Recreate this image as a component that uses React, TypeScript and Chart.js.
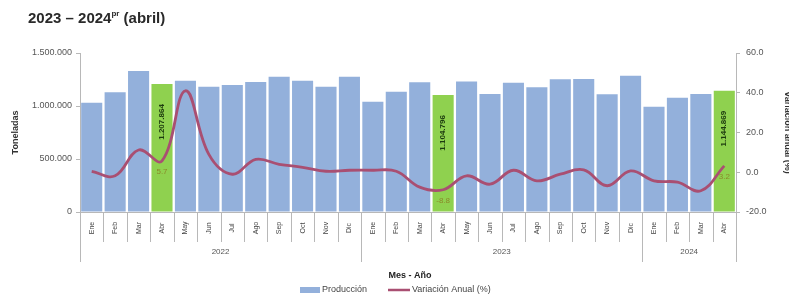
import React, { useEffect, useRef } from "react";
import { Chart, registerables } from "chart.js";
Chart.register(...registerables);

const months = ["Ene", "Feb", "Mar", "Abr", "May", "Jun", "Jul", "Ago", "Sep", "Oct", "Nov", "Dic"];
const years = ["2022", "2023", "2024"];
const monthsPerYear = [12, 12, 4];

const produccion = [
  1031000, 1129000, 1330000, 1207864, 1239000, 1182000, 1198000, 1226000, 1277000, 1239000, 1182000, 1277000,
  1040000, 1135000, 1223000, 1104796, 1230000, 1113000, 1220000, 1176000, 1252000, 1255000, 1110000, 1286000,
  993000, 1078000, 1113000, 1144869,
];
const variacion = [
  0.5, -1.8, 11.2, 5.7, 41.0, 9.0, -1.0, 6.5, 4.0, 2.5, 0.5, 1.0,
  1.0, 0.5, -7.5, -8.8, -1.8, -6.0, 1.0, -4.3, -1.0, 1.2, -6.8, 0.7,
  -4.3, -5.0, -9.3, 3.2,
];
const highlightMonth = "Abr";

const leftTicks = [0, 500000, 1000000, 1500000];
const rightTicks = [-20, 0, 20, 40, 60];

const categories: string[] = [];
const monthOfCat: string[] = [];
years.forEach((y, yi) => {
  for (let m = 0; m < monthsPerYear[yi]; m++) {
    categories.push(months[m] + " " + y);
    monthOfCat.push(months[m]);
  }
});

const FONT = "'Liberation Sans', Arial, sans-serif";
const BLUE = "#93b0db";
const GREEN = "#8fd14f";
const LINE = "#a94f72";

const fmtThousands = (v: number) => String(Math.round(v)).replace(/\B(?=(\d{3})+(?!\d))/g, ".");

const customPlugin = {
  id: "customDecor",
  afterDatasetsDraw(chart: any) {
    const ctx = chart.ctx;
    const barMeta = chart.getDatasetMeta(0);
    const lineMeta = chart.getDatasetMeta(1);
    ctx.save();
    monthOfCat.forEach((m, i) => {
      if (m !== highlightMonth) return;
      const bar = barMeta.data[i];
      ctx.save();
      ctx.translate(bar.x, bar.y + 38);
      ctx.rotate(-Math.PI / 2);
      ctx.font = `bold 8px ${FONT}`;
      ctx.fillStyle = "#1d3b0f";
      ctx.textAlign = "center";
      ctx.textBaseline = "middle";
      ctx.fillText(fmtThousands(produccion[i]), 0, 0);
      ctx.restore();
      const pt = lineMeta.data[i];
      ctx.font = `8px ${FONT}`;
      ctx.fillStyle = "#8a8a2a";
      ctx.textAlign = "center";
      ctx.textBaseline = "middle";
      ctx.fillText(variacion[i].toFixed(1), pt.x, pt.y + 11);
    });
    ctx.restore();
  },
  afterDraw(chart: any) {
    const ctx = chart.ctx;
    const xs = chart.scales.x;
    const bottom = chart.chartArea.bottom;
    const n = categories.length;
    const half = (xs.getPixelForValue(1) - xs.getPixelForValue(0)) / 2;
    ctx.save();
    ctx.strokeStyle = "#b8b8b8";
    ctx.lineWidth = 1;
    const yearStarts: number[] = [];
    let acc = 0;
    monthsPerYear.forEach((c) => {
      yearStarts.push(acc);
      acc += c;
    });
    yearStarts.push(acc);
    for (let i = 0; i <= n; i++) {
      const xb = i < n ? xs.getPixelForValue(i) - half : xs.getPixelForValue(n - 1) + half;
      const isYear = yearStarts.includes(i);
      ctx.beginPath();
      ctx.moveTo(Math.round(xb) + 0.5, bottom);
      ctx.lineTo(Math.round(xb) + 0.5, bottom + (isYear ? 50 : 30));
      ctx.stroke();
    }
    // month labels
    ctx.fillStyle = "#444";
    ctx.font = `7px ${FONT}`;
    ctx.textAlign = "center";
    ctx.textBaseline = "middle";
    monthOfCat.forEach((m, i) => {
      ctx.save();
      ctx.translate(xs.getPixelForValue(i), bottom + 16);
      ctx.rotate(-Math.PI / 2);
      ctx.fillText(m, 0, 0);
      ctx.restore();
    });
    // year labels
    ctx.font = `8px ${FONT}`;
    ctx.fillStyle = "#555";
    years.forEach((y, yi) => {
      const a = xs.getPixelForValue(yearStarts[yi]) - half;
      const b = xs.getPixelForValue(yearStarts[yi + 1] - 1) + half;
      ctx.fillText(y, (a + b) / 2, bottom + 40);
    });
    // axis title
    ctx.font = `bold 9px ${FONT}`;
    ctx.fillStyle = "#222";
    ctx.fillText("Mes - Año", 410, bottom + 64);
    // legend
    ctx.fillStyle = BLUE;
    ctx.fillRect(300, 287, 20, 6);
    ctx.fillStyle = "#444";
    ctx.font = `9px ${FONT}`;
    ctx.textAlign = "left";
    ctx.fillText("Producción", 322, 290);
    ctx.strokeStyle = LINE;
    ctx.lineWidth = 2.5;
    ctx.beginPath();
    ctx.moveTo(388, 290);
    ctx.lineTo(410, 290);
    ctx.stroke();
    ctx.fillText("Variación Anual (%)", 412, 290);
    ctx.restore();
  },
};

export default function App() {
  const ref = useRef<HTMLCanvasElement | null>(null);
  useEffect(() => {
    document.body.style.margin = "0";
    if (!ref.current) return;
    const chart = new Chart(ref.current, {
      type: "bar",
      data: {
        labels: categories,
        datasets: [
          {
            type: "bar",
            label: "Producción",
            data: produccion,
            backgroundColor: monthOfCat.map((m) => (m === highlightMonth ? GREEN : BLUE)),
            barPercentage: 0.9,
            categoryPercentage: 1,
            yAxisID: "y",
            order: 2,
          },
          {
            type: "line",
            label: "Variación Anual (%)",
            data: variacion,
            borderColor: LINE,
            borderWidth: 2.8,
            pointRadius: 0,
            tension: 0.4,
            yAxisID: "y1",
            order: 1,
          } as any,
        ],
      },
      options: {
        responsive: false,
        animation: false,
        layout: { padding: { top: 53, left: 0, right: 0, bottom: 0 } },
        plugins: { legend: { display: false }, tooltip: { enabled: false } },
        scales: {
          x: {
            type: "category",
            offset: true,
            ticks: { display: false },
            grid: { display: false },
            border: { display: true, color: "#b8b8b8" },
            afterFit: (s: any) => {
              s.height = 82;
            },
          },
          y: {
            position: "left",
            min: 0,
            max: 1500000,
            afterBuildTicks: (s: any) => {
              s.ticks = leftTicks.map((v) => ({ value: v }));
            },
            ticks: {
              font: { size: 9, family: FONT },
              color: "#555",
              padding: 4,
              callback: (v: any) => fmtThousands(Number(v)),
            },
            grid: { drawOnChartArea: false, tickLength: 4, color: "#b8b8b8" },
            border: { color: "#b8b8b8" },
            title: {
              display: true,
              text: "Toneladas",
              font: { size: 9, weight: "bold", family: FONT },
              color: "#333",
              padding: { top: 10, bottom: 0 },
            },
            afterFit: (s: any) => {
              s.width = 80;
            },
          },
          y1: {
            position: "right",
            min: -20,
            max: 60,
            afterBuildTicks: (s: any) => {
              s.ticks = rightTicks.map((v) => ({ value: v }));
            },
            ticks: {
              font: { size: 9, family: FONT },
              color: "#555",
              padding: 6,
              callback: (v: any) => Number(v).toFixed(1),
            },
            grid: { drawOnChartArea: false, tickLength: 4, color: "#b8b8b8" },
            border: { color: "#b8b8b8" },
            title: {
              display: true,
              text: "Variación anual (%)",
              font: { size: 9, weight: "bold", family: FONT },
              color: "#333",
              padding: { top: -4, bottom: 0 },
            },
            afterFit: (s: any) => {
              s.width = 53;
            },
          },
        },
      } as any,
      plugins: [customPlugin],
    });
    return () => chart.destroy();
  }, []);

  return (
    <div style={{ position: "absolute", left: 0, top: 0, width: 789, height: 294, background: "#fff" }}>
      <canvas ref={ref} width={789} height={294} style={{ width: 789, height: 294, display: "block" }} />
      <div
        style={{
          position: "absolute",
          left: 28,
          top: 9,
          fontFamily: FONT,
          fontWeight: "bold",
          fontSize: 15,
          color: "#2a2a2a",
          whiteSpace: "nowrap",
          lineHeight: "18px",
        }}
      >
        2023 – 2024<sup style={{ fontSize: 8, verticalAlign: "top", lineHeight: "10px" }}>pr</sup> (abril)
      </div>
    </div>
  );
}
